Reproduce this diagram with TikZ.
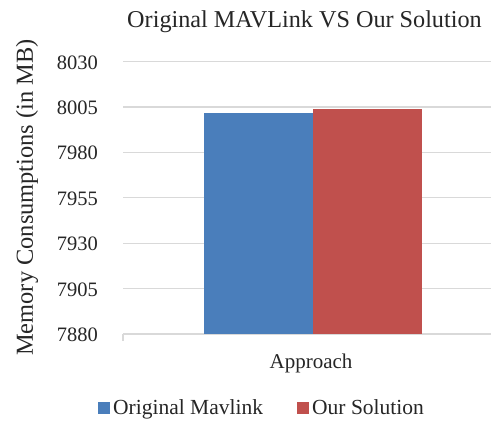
\documentclass[tikz,border=0pt]{standalone}
\usepackage{fontspec}
\setmainfont{Liberation Serif}
\definecolor{barblue}{HTML}{4A7EBB}
\definecolor{barred}{HTML}{C0504D}
\definecolor{gridgray}{HTML}{D9D9D9}
\definecolor{inkgray}{HTML}{262626}
\tikzset{
  gridline/.style={draw=gridgray, line width=1.2pt},
  ticklabel/.style={anchor=base east, inner sep=0pt, font=\fontsize{20.5}{24}\selectfont, text=inkgray},
  chartlabel/.style={inner sep=0pt, font=\fontsize{21}{25}\selectfont, text=inkgray},
  keybox/.style={minimum width=12pt, minimum height=12pt, inner sep=0pt, anchor=south west}
}
\begin{document}
\begin{tikzpicture}[x=1pt,y=-1pt]
\useasboundingbox[fill=white] (0,0) rectangle (491,421);

% horizontal grid and value labels (7880 ... 8030, step 25)
\foreach \i/\v in {0/7880,1/7905,2/7930,3/7955,4/7980,5/8005,6/8030}{
  \pgfmathsetmacro{\yy}{334-\i*45.4}
  \draw[gridline] (123,\yy) -- (491,\yy);
  \node[ticklabel] (tick\i) at (98,\yy+7.5) {\v};
}
% small tick below the category axis
\coordinate (axisleft) at (123,334);
\coordinate (axisfoot) at (123,341);
\draw[gridline] (axisleft) -- (axisfoot);

% bars
\fill[barblue] (204,334) rectangle (313,112.7);
\fill[barred] (313,334) rectangle (422,109);

% texts
\node[chartlabel, anchor=base, font=\fontsize{24.2}{28}\selectfont] (title) at (304.5,27) {Original MAVLink VS Our Solution};
\node[chartlabel, rotate=90, font=\fontsize{24.4}{28}\selectfont] (ylabel) at (27,197.5) {Memory Consumptions (in MB)};
\node[chartlabel, anchor=base] (cat) at (311,368.5) {Approach};

% legend
\node[keybox, fill=barblue] (keyA) at (97.5,414.5) {};
\node[chartlabel, anchor=base west, font=\fontsize{21.5}{25}\selectfont] (keyAtext) at (113,414.5) {Original Mavlink};
\node[keybox, fill=barred] (keyB) at (296.5,414.5) {};
\node[chartlabel, anchor=base west, font=\fontsize{21.5}{25}\selectfont] (keyBtext) at (312,414.5) {Our Solution};
\end{tikzpicture}
\end{document}
